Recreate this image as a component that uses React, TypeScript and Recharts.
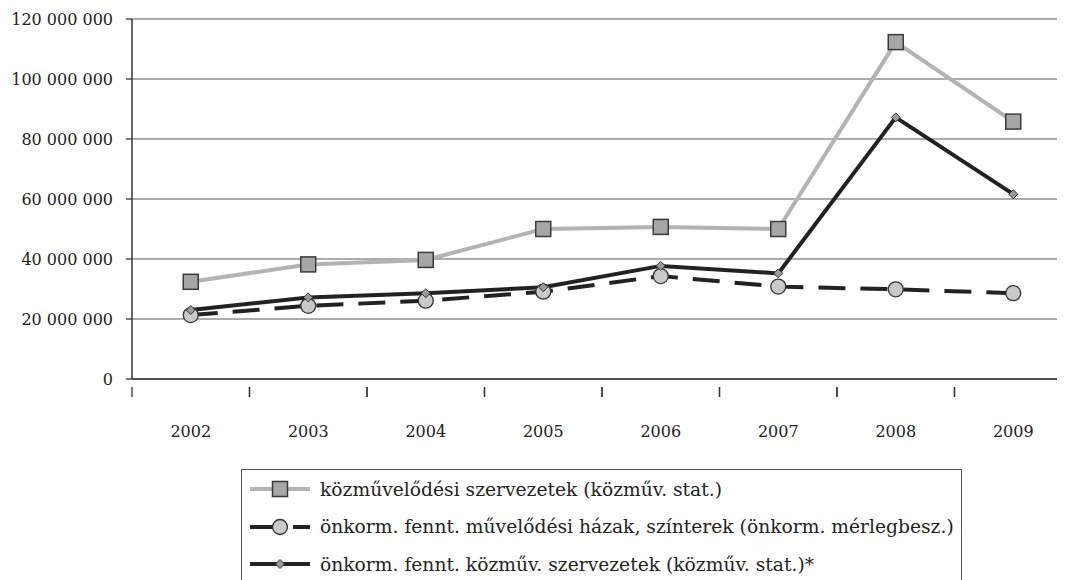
import { LineChart, Line, XAxis, YAxis, CartesianGrid } from "recharts";

const years = ["2002", "2003", "2004", "2005", "2006", "2007", "2008", "2009"];
const kozmuvSzervezetek = [32400000, 38200000, 39700000, 50000000, 50700000, 50000000, 112300000, 85800000];
const onkormHazak = [21300000, 24400000, 26100000, 29100000, 34300000, 30800000, 29900000, 28600000];
const onkormSzervezetek = [23000000, 27200000, 28600000, 30600000, 37700000, 35200000, 87200000, 61600000];
const yTicks = [0, 20000000, 40000000, 60000000, 80000000, 100000000, 120000000];

const seriesNames = [
  "közművelődési szervezetek (közműv. stat.)",
  "önkorm. fennt. művelődési házak, színterek (önkorm. mérlegbesz.)",
  "önkorm. fennt. közműv. szervezetek (közműv. stat.)*",
];

const data = years.map((year, i) => ({
  year,
  a: kozmuvSzervezetek[i],
  b: onkormHazak[i],
  c: onkormSzervezetek[i],
}));

const FONT = "'DejaVu Serif', serif";
const TEXT = "#222";
const HALF_BAND = 58.75;

const fmt = (v: number) =>
  String(v).replace(/\B(?=(\d{3})+(?!\d))/g, " ");

const SquareDot = (props: any) => {
  const { cx, cy } = props;
  if (cx == null || cy == null) return null;
  return <rect x={cx - 7.5} y={cy - 7.5} width={15} height={15} fill="#a6a6a6" stroke="#3a3a3a" strokeWidth={1.5} />;
};

const CircleDot = (props: any) => {
  const { cx, cy } = props;
  if (cx == null || cy == null) return null;
  return <circle cx={cx} cy={cy} r={7.5} fill="#c9c9c9" stroke="#333" strokeWidth={1.3} />;
};

const DiamondDot = (props: any) => {
  const { cx, cy } = props;
  if (cx == null || cy == null) return null;
  return (
    <polygon
      points={`${cx},${cy - 4.5} ${cx + 4.5},${cy} ${cx},${cy + 4.5} ${cx - 4.5},${cy}`}
      fill="#9a9a9a"
      stroke="#333"
      strokeWidth={1}
    />
  );
};

// category labels in the middle, tick marks on the band borders
const YearTick = (props: any) => {
  const { x, y, payload } = props;
  return (
    <g>
      <line x1={x - HALF_BAND} y1={y} x2={x - HALF_BAND} y2={y + 10} stroke="#333" strokeWidth={1.3} />
      <line x1={x + HALF_BAND} y1={y} x2={x + HALF_BAND} y2={y + 10} stroke="#333" strokeWidth={1.3} />
      <text x={x} y={y + 50} textAnchor="middle" fontFamily={FONT} fontSize={16} fill={TEXT}>
        {payload.value}
      </text>
    </g>
  );
};

function LegendIcon({ kind }: { kind: number }) {
  return (
    <svg width={60} height={20} style={{ display: "block", flex: "none" }}>
      {kind === 0 && (
        <>
          <line x1={0} y1={10} x2={60} y2={10} stroke="#b3b3b3" strokeWidth={4} />
          <rect x={22.5} y={2.5} width={15} height={15} fill="#a6a6a6" stroke="#3a3a3a" strokeWidth={1.5} />
        </>
      )}
      {kind === 1 && (
        <>
          <line x1={0} y1={10} x2={24} y2={10} stroke="#222" strokeWidth={4} />
          <line x1={43} y1={10} x2={60} y2={10} stroke="#222" strokeWidth={4} />
          <circle cx={30} cy={10} r={7.5} fill="#c9c9c9" stroke="#333" strokeWidth={1.3} />
        </>
      )}
      {kind === 2 && (
        <>
          <line x1={0} y1={10} x2={60} y2={10} stroke="#222" strokeWidth={4} />
          <polygon points="30,5.5 34.5,10 30,14.5 25.5,10" fill="#9a9a9a" stroke="#333" strokeWidth={1} />
        </>
      )}
    </svg>
  );
}

export default function App() {
  return (
    <div style={{ position: "relative", width: 1057, height: 572, overflow: "hidden", background: "#fff" }}>
      <LineChart
        width={1070}
        height={572}
        data={data}
        margin={{ top: 11, right: 6, left: 14, bottom: 151 }}
      >
        <CartesianGrid vertical={false} stroke="#5a5a5a" strokeWidth={1.2} />
        <XAxis
          dataKey="year"
          padding={{ left: HALF_BAND, right: HALF_BAND }}
          axisLine={{ stroke: "#333", strokeWidth: 1.5 }}
          tickLine={false}
          tick={<YearTick />}
          height={50}
          interval={0}
        />
        <YAxis
          width={110}
          domain={[0, 120000000]}
          ticks={yTicks}
          tickFormatter={fmt}
          axisLine={{ stroke: "#333", strokeWidth: 1.5 }}
          tickLine={{ stroke: "#333", strokeWidth: 1.3 }}
          tickSize={6}
          tickMargin={13}
          tick={{ fontFamily: FONT, fontSize: 16, fill: TEXT }}
        />
        <Line
          dataKey="a"
          name={seriesNames[0]}
          stroke="#b3b3b3"
          strokeWidth={4}
          dot={<SquareDot />}
          activeDot={false}
          isAnimationActive={false}
        />
        <Line
          dataKey="b"
          name={seriesNames[1]}
          stroke="#222"
          strokeWidth={4}
          strokeDasharray="27 15"
          dot={<CircleDot />}
          activeDot={false}
          isAnimationActive={false}
        />
        <Line
          dataKey="c"
          name={seriesNames[2]}
          stroke="#222"
          strokeWidth={4}
          dot={<DiamondDot />}
          activeDot={false}
          isAnimationActive={false}
        />
      </LineChart>
      <div
        style={{
          position: "absolute",
          left: 233,
          top: 461,
          width: 721,
          height: 140,
          border: "1px solid #555",
          boxSizing: "border-box",
          fontFamily: FONT,
          fontSize: 18.7,
          color: TEXT,
        }}
      >
        {seriesNames.map((name, i) => (
          <div
            key={name}
            style={{
              position: "absolute",
              left: 8,
              top: 9 + i * 37.5,
              height: 20,
              display: "flex",
              alignItems: "center",
              whiteSpace: "nowrap",
            }}
          >
            <LegendIcon kind={i} />
            <span style={{ marginLeft: 10 }}>{name}</span>
          </div>
        ))}
      </div>
    </div>
  );
}
